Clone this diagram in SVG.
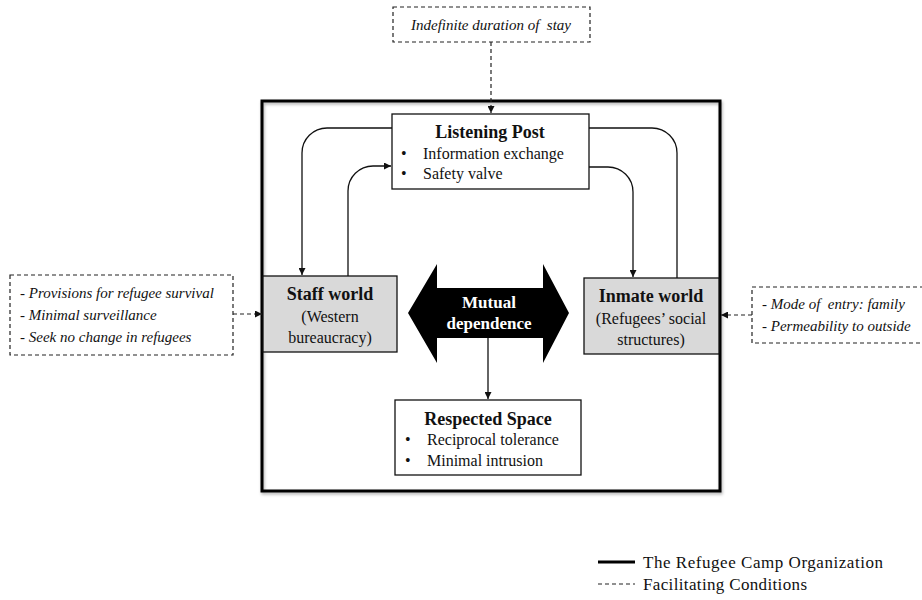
<svg xmlns="http://www.w3.org/2000/svg" width="922" height="600" viewBox="0 0 922 600">
<style>
text{font-family:"Liberation Serif","Times New Roman",serif;fill:#111}
.t{font-size:18px;font-weight:bold}
.b{font-size:16px}
.i{font-size:15px;font-style:italic}
.box{fill:#fff;stroke:#111;stroke-width:1.3}
.grey{fill:#d9d9d9;stroke:#111;stroke-width:1.3}
.dbox{fill:#fff;stroke:#222;stroke-width:1.2;stroke-dasharray:4,3}
.c{fill:none;stroke:#111;stroke-width:1.3}
.d{fill:none;stroke:#222;stroke-width:1.2;stroke-dasharray:4,3}
.lg{font-size:17px}
</style>
<defs>
<marker id="ah" viewBox="0 0 10 10" refX="10" refY="5" markerWidth="7" markerHeight="7" markerUnits="userSpaceOnUse" orient="auto"><path d="M0,0 L10,5 L0,10 Z" fill="#111"/></marker>
<filter id="sh" x="-5%" y="-5%" width="110%" height="110%"><feDropShadow dx="1" dy="2" stdDeviation="1.5" flood-color="#000" flood-opacity="0.3"/></filter>
</defs>

<g id="camp">
<rect x="262" y="101" width="458" height="390" fill="none" stroke="#000" stroke-width="3" filter="url(#sh)"/>
</g>

<g id="connectors">
<path class="d" d="M491,42 V113" marker-end="url(#ah)"/>
<path class="d" d="M233,314 H262" marker-end="url(#ah)"/>
<path class="d" d="M752,315 H721" marker-end="url(#ah)"/>
<path class="c" d="M392,128 H327 A25,25 0 0 0 302,153 V275" marker-end="url(#ah)"/>
<path class="c" d="M348,276 V191 A25,25 0 0 1 373,166 H391" marker-end="url(#ah)"/>
<path class="c" d="M589,128 H652 A25,25 0 0 1 677,153 V278"/>
<path class="c" d="M589,167 H608 A25,25 0 0 1 633,192 V277" marker-end="url(#ah)"/>
<path class="c" d="M488,338 V399" marker-end="url(#ah)"/>
</g>

<g id="indefinite">
<rect class="dbox" x="393" y="7" width="197" height="35"/>
<text class="i" x="491" y="30" text-anchor="middle" xml:space="preserve">Indefinite duration of  stay</text>
</g>

<g id="listening-post">
<rect class="box" x="392" y="114" width="197" height="75"/>
<text class="t" x="490" y="138" text-anchor="middle">Listening Post</text>
<text class="b" x="401" y="159">•</text><text class="b" x="423" y="159">Information exchange</text>
<text class="b" x="401" y="179">•</text><text class="b" x="423" y="179">Safety valve</text>
</g>

<g id="provisions">
<rect class="dbox" x="10" y="275" width="223" height="80"/>
<text class="i" x="20" y="298">- Provisions for refugee survival</text>
<text class="i" x="20" y="320">- Minimal surveillance</text>
<text class="i" x="20" y="342">- Seek no change in refugees</text>
</g>

<g id="staff-world">
<rect class="grey" x="263" y="276" width="134" height="76"/>
<text class="t" x="330" y="300" text-anchor="middle">Staff world</text>
<text class="b" x="330" y="322" text-anchor="middle">(Western</text>
<text class="b" x="330" y="343" text-anchor="middle">bureaucracy)</text>
</g>

<g id="mutual-dependence">
<polygon points="408,313 437,264 437,288 543,288 543,264 569,313 543,363 543,338 437,338 437,363" fill="#000"/>
<text class="t" x="489" y="308" text-anchor="middle" style="fill:#fff;font-size:17px">Mutual</text>
<text class="t" x="489" y="329" text-anchor="middle" style="fill:#fff;font-size:17px">dependence</text>
</g>

<g id="inmate-world">
<rect class="grey" x="584" y="278" width="135" height="76"/>
<text class="t" x="651" y="302" text-anchor="middle">Inmate world</text>
<text class="b" x="651" y="324" text-anchor="middle">(Refugees’ social</text>
<text class="b" x="651" y="345" text-anchor="middle">structures)</text>
</g>

<g id="entry">
<rect class="dbox" x="752" y="287" width="175" height="56"/>
<text class="i" x="762" y="309" xml:space="preserve">- Mode of  entry: family</text>
<text class="i" x="762" y="331">- Permeability to outside</text>
</g>

<g id="respected-space">
<rect class="box" x="395" y="400" width="186" height="75"/>
<text class="t" x="488" y="425" text-anchor="middle">Respected Space</text>
<text class="b" x="405" y="445">•</text><text class="b" x="427" y="445">Reciprocal tolerance</text>
<text class="b" x="405" y="466">•</text><text class="b" x="427" y="466">Minimal intrusion</text>
</g>

<g id="legend">
<line x1="598" y1="562" x2="635" y2="562" stroke="#000" stroke-width="3"/>
<text class="lg" x="643" y="568" textLength="240" lengthAdjust="spacing">The Refugee Camp Organization</text>
<line x1="598" y1="584" x2="635" y2="584" stroke="#222" stroke-width="1.2" stroke-dasharray="4,3"/>
<text class="lg" x="643" y="590" textLength="164" lengthAdjust="spacing">Facilitating Conditions</text>
</g>
</svg>
